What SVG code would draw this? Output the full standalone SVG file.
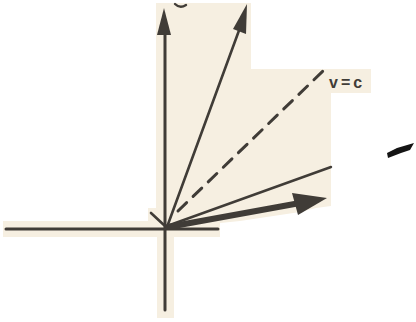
<svg xmlns="http://www.w3.org/2000/svg" width="416" height="322" viewBox="0 0 416 322">
<style>
.bg{fill:#f6efe1}
.ln{stroke:#403c37;stroke-linecap:round;fill:none}
.ah{fill:#403c37}
.lbl{font-family:"Liberation Sans",Arial,sans-serif;font-weight:bold;font-size:16px;fill:#403c37}
</style>
<rect width="416" height="322" fill="#ffffff"/>
<g id="background">
<polygon class="bg" points="156,3 251,3 251,69 371,69 371,93 331,93 331,206 316,208 300,212 280,215 260,218 240,221 220,223 220,237 174,237 174,318 157,318 157,237 3,237 3,221 148,221 148,208 156,208"/>
</g>
<g id="connectors">
<line id="axis-x" class="ln" x1="6" y1="229" x2="218" y2="229" stroke-width="3"/>
<line id="axis-y" class="ln" x1="165" y1="310" x2="165" y2="30" stroke-width="3"/>
<polygon class="ah" points="164,8 171,35 157,35"/>
<line id="ray-steep" class="ln" x1="167" y1="227" x2="241" y2="25" stroke-width="2.6"/>
<polygon class="ah" points="247,4 246,34 233,29"/>
<line id="ray-vc" class="ln" x1="178" y1="211" x2="323" y2="71" stroke-width="3" stroke-dasharray="12,9" stroke-linecap="butt"/>
<line id="ray-shallow" class="ln" x1="167" y1="226" x2="331" y2="167" stroke-width="2.4"/>
<line id="ray-thick" class="ln" x1="168" y1="227" x2="300" y2="203" stroke-width="6"/>
<polygon class="ah" points="327,198 298,215 292,193"/>
<line id="tick" class="ln" x1="151" y1="213" x2="165" y2="226" stroke-width="2.6"/>
<path class="ln" d="M175,4 Q180,9 186,5" stroke-width="2.4"/>
</g>
<g id="label">
<text class="lbl" x="329" y="88" letter-spacing="3">v=c</text>
</g>
<g id="mark">
<polygon fill="#141414" points="387,153 397,148 414,143 410,150 401,153 388,158"/>
</g>
</svg>
